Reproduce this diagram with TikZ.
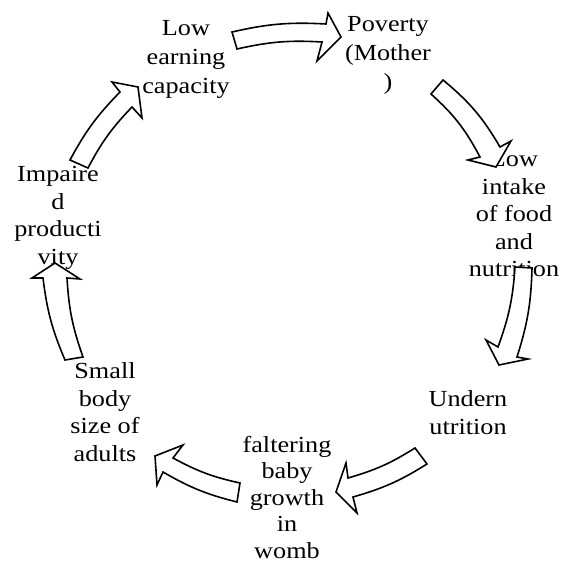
\documentclass[tikz,border=0pt]{standalone}
\usepackage{fontspec}
\setmainfont{Liberation Serif}[FakeStretch=1.14]
\begin{document}
\begin{tikzpicture}[x=1pt,y=-1pt,
  lbl/.style={align=center, anchor=north, inner sep=0pt, font=\fontsize{23}{27.5}\selectfont},
  lbltop/.style={lbl, font=\fontsize{23}{29}\selectfont},
  lblbot/.style={lbl, font=\fontsize{23}{26.5}\selectfont},
  blockarrow/.style={draw=black, fill=white, line width=1.6pt, line join=miter}]
\useasboundingbox (0,0) rectangle (565,564);
% labels
\node[lbltop] (lec) at (186,20.5) {Low\\earning\\capacity};
\node[lbltop] (pov) at (388,16.5) {Poverty\\(Mother\\)};
\node[lbl] (lif) at (514,151.5) {Low\\intake\\of food\\and\\nutrition};
\node[lbl] (und) at (468,390.5) {Undern\\utrition};
\node[lblbot] (fbg) at (287,436) {faltering\\baby\\growth\\in\\womb};
\node[lbl] (sbs) at (105,362.5) {Small\\body\\size of\\adults};
\node[lbl] (imp) at (58,166.5) {Impaire\\d\\producti\\vity};
% block arrows
\draw[blockarrow] (232,32) to[bend left=8] (326,24) -- (328,13) -- (341,37) -- (317,61) -- (322,42) to[bend right=8] (237,49) -- cycle;
\draw[blockarrow] (443,80) to[bend left=10] (500,147) -- (511,141) -- (496,167) -- (468,160) -- (480,157) to[bend right=10] (431,94) -- cycle;
\draw[blockarrow] (532,268) to[bend left=8] (517,357) -- (528,359) -- (499,365) -- (486,340) -- (498,347) to[bend right=8] (515,267) -- cycle;
\draw[blockarrow] (415,448) to[bend left=8] (348,478) -- (346,463) -- (336,492) -- (357,513) -- (353,497) to[bend right=8] (427,464) -- cycle;
\draw[blockarrow] (240,483) to[bend left=8] (173,458) -- (183,445) -- (155,456) -- (157,485) -- (163,472) to[bend right=8] (237,502) -- cycle;
\draw[blockarrow] (65,360) to[bend left=8] (43,278) -- (32,278) -- (55,263) -- (80,279) -- (67,278) to[bend right=8] (83,357) -- cycle;
\draw[blockarrow] (70,160) to[bend left=8] (120,92) -- (112,82) -- (138,87) -- (142,118) -- (132,107) to[bend right=8] (88,168) -- cycle;
\end{tikzpicture}
\end{document}
